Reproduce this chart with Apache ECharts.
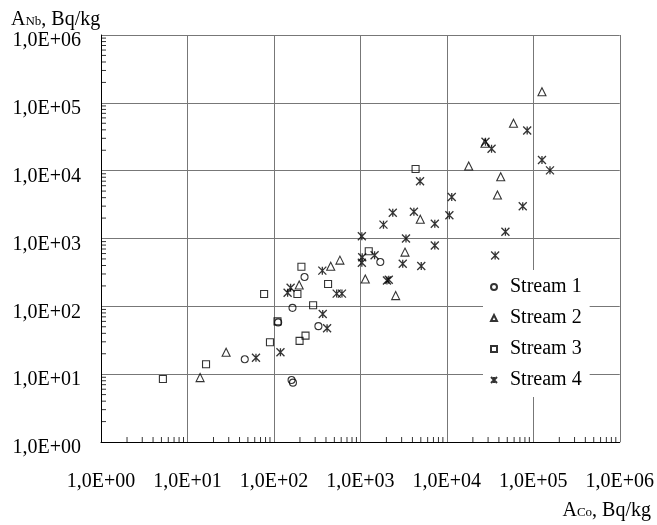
<!DOCTYPE html>
<html>
<head>
<meta charset="utf-8">
<script src="https://cdn.jsdelivr.net/npm/echarts@6/dist/echarts.min.js"></script>
<style>
html,body{margin:0;padding:0;background:#fff;}
#chart{width:657px;height:525px;}
</style>
</head>
<body>
<div id="chart"></div>
<script>
// ---- data (A_Co, A_Nb in Bq/kg) ----
const stream1 = [[226,271],[164,95],[112,58],[46,16.6],[160,8.2],[166,7.5],[1700,450],[327,51]];
const stream2 = [[196,206],[28,21],[14,8.9],[17900,11700],[4930,1920],[3280,630],[1140,253],[2560,144],
                 [454,389],[580,480],[126000,146000],[59000,50000],[27600,25300],[42000,8150],[38500,4380]];
const stream3 = [[208,384],[187,152],[77,152],[110,60],[90,29.5],[198,31],[232,37],[16.4,14],[5.2,8.5],
                 [4350,10600],[1250,650],[423,213],[284,104]];
const stream4 = [[156,188],[144,159],[62,17.5],[119,21],[4900,7000],[11400,4100],[10700,2200],[2370,2400],
                 [4160,2480],[1850,1600],[7260,1650],[1040,1080],[3370,1000],[7260,790],[1460,565],[1050,530],
                 [1040,440],[3090,425],[5060,393],[2030,240],[2130,247],[363,336],[532,154],[612,154],
                 [85000,39000],[28000,26700],[32900,21100],[126000,14400],[156000,10100],[75500,2990],
                 [47600,1260],[36200,560],[367,77],[412,47.5]];
const seriesNames = ['Stream 1','Stream 2','Stream 3','Stream 4'];
const xTickLabels = ['1,0E+00','1,0E+01','1,0E+02','1,0E+03','1,0E+04','1,0E+05','1,0E+06'];
const yTickLabels = ['1,0E+00','1,0E+01','1,0E+02','1,0E+03','1,0E+04','1,0E+05','1,0E+06'];
const decades = [1,10,100,1000,10000,100000];
const mantissas = [2,3,4,5,6,7,8,9];

// ---- build ----
const minorVals = [];
decades.forEach(d => mantissas.forEach(m => minorVals.push(m * d)));
const FONT = 'Liberation Serif';
const expIndex = v => Math.round(Math.log10(v));
const starPath = 'path://M0,0L8,8M8,0L0,8M4,0L4,8';

const chart = echarts.init(document.getElementById('chart'), null, {renderer:'canvas'});
const markerStyle = {color:'transparent', borderColor:'#000', borderWidth:1.1};

function scatter(name, data, symbol, size, bw){
  return {name, type:'scatter', data, symbol, symbolSize:size,
          itemStyle:Object.assign({}, markerStyle, bw ? {borderWidth:bw} : {}),
          emphasis:{disabled:true}, z:5, animation:false, clip:false};
}
function tickSeries(axisDir){
  return {
    type:'scatter', silent:true, animation:false, z:4, clip:false,
    data: minorVals.map(v => axisDir === 'x' ? [v, 1] : [1, v]),
    symbol:'rect',
    symbolSize: axisDir === 'x' ? [1, 5] : [5, 1],
    symbolOffset: axisDir === 'x' ? [0, -2.5] : [2.5, 0],
    itemStyle:{color:'#000', borderWidth:0},
    emphasis:{disabled:true}
  };
}
const titleRich = {
  a:{fontFamily:FONT, fontSize:20, fontWeight:'normal', color:'#000'},
  s:{fontFamily:FONT, fontSize:13, fontWeight:'normal', color:'#000', verticalAlign:'bottom', padding:[0,0,2,0]}
};

const option = {
  backgroundColor:'#fff',
  animation:false,
  textStyle:{fontFamily:FONT, color:'#000'},
  title:[
    {text:'{a|A}{s|Nb}{a|, Bq/kg}', left:11, top:10, padding:0,
     textStyle:{fontWeight:'normal', rich:titleRich}},
    {text:'{a|A}{s|Co}{a|, Bq/kg}', right:6, top:501, padding:0,
     textStyle:{fontWeight:'normal', rich:titleRich}}
  ],
  grid:{left:101, right:35, top:35, bottom:83, containLabel:false},
  legend:{
    data:seriesNames, orient:'vertical', left:483, top:270,
    backgroundColor:'#fff', padding:[7,8,7,7], itemGap:11,
    itemWidth:6, itemHeight:6,
    textStyle:{fontFamily:FONT, fontSize:20, color:'#000', lineHeight:20, padding:[0,0,0,8]},
    selectedMode:false
  },
  xAxis:{
    type:'log', logBase:10, min:1, max:1e6, splitNumber:6,
    axisLine:{show:true, onZero:false, lineStyle:{color:'#000', width:1}},
    axisTick:{show:false},
    splitLine:{show:true, lineStyle:{color:'#777', width:1}},
    axisLabel:{margin:30, fontFamily:FONT, fontSize:20, color:'#000',
      formatter: v => xTickLabels[expIndex(v)]}
  },
  yAxis:{
    type:'log', logBase:10, min:1, max:1e6, splitNumber:6,
    axisLine:{show:true, onZero:false, lineStyle:{color:'#000', width:1}},
    axisTick:{show:false},
    splitLine:{show:true, lineStyle:{color:'#777', width:1}},
    axisLabel:{margin:20, fontFamily:FONT, fontSize:20, color:'#000', verticalAlign:'top',
      lineHeight:12, formatter: v => yTickLabels[expIndex(v)]}
  },
  series:[
    tickSeries('x'),
    tickSeries('y'),
    scatter(seriesNames[0], stream1, 'circle', 7),
    scatter(seriesNames[1], stream2, 'triangle', 8),
    scatter(seriesNames[2], stream3, 'rect', 7),
    scatter(seriesNames[3], stream4, starPath, 8, 1.3)
  ]
};
chart.setOption(option);
</script>
</body>
</html>
